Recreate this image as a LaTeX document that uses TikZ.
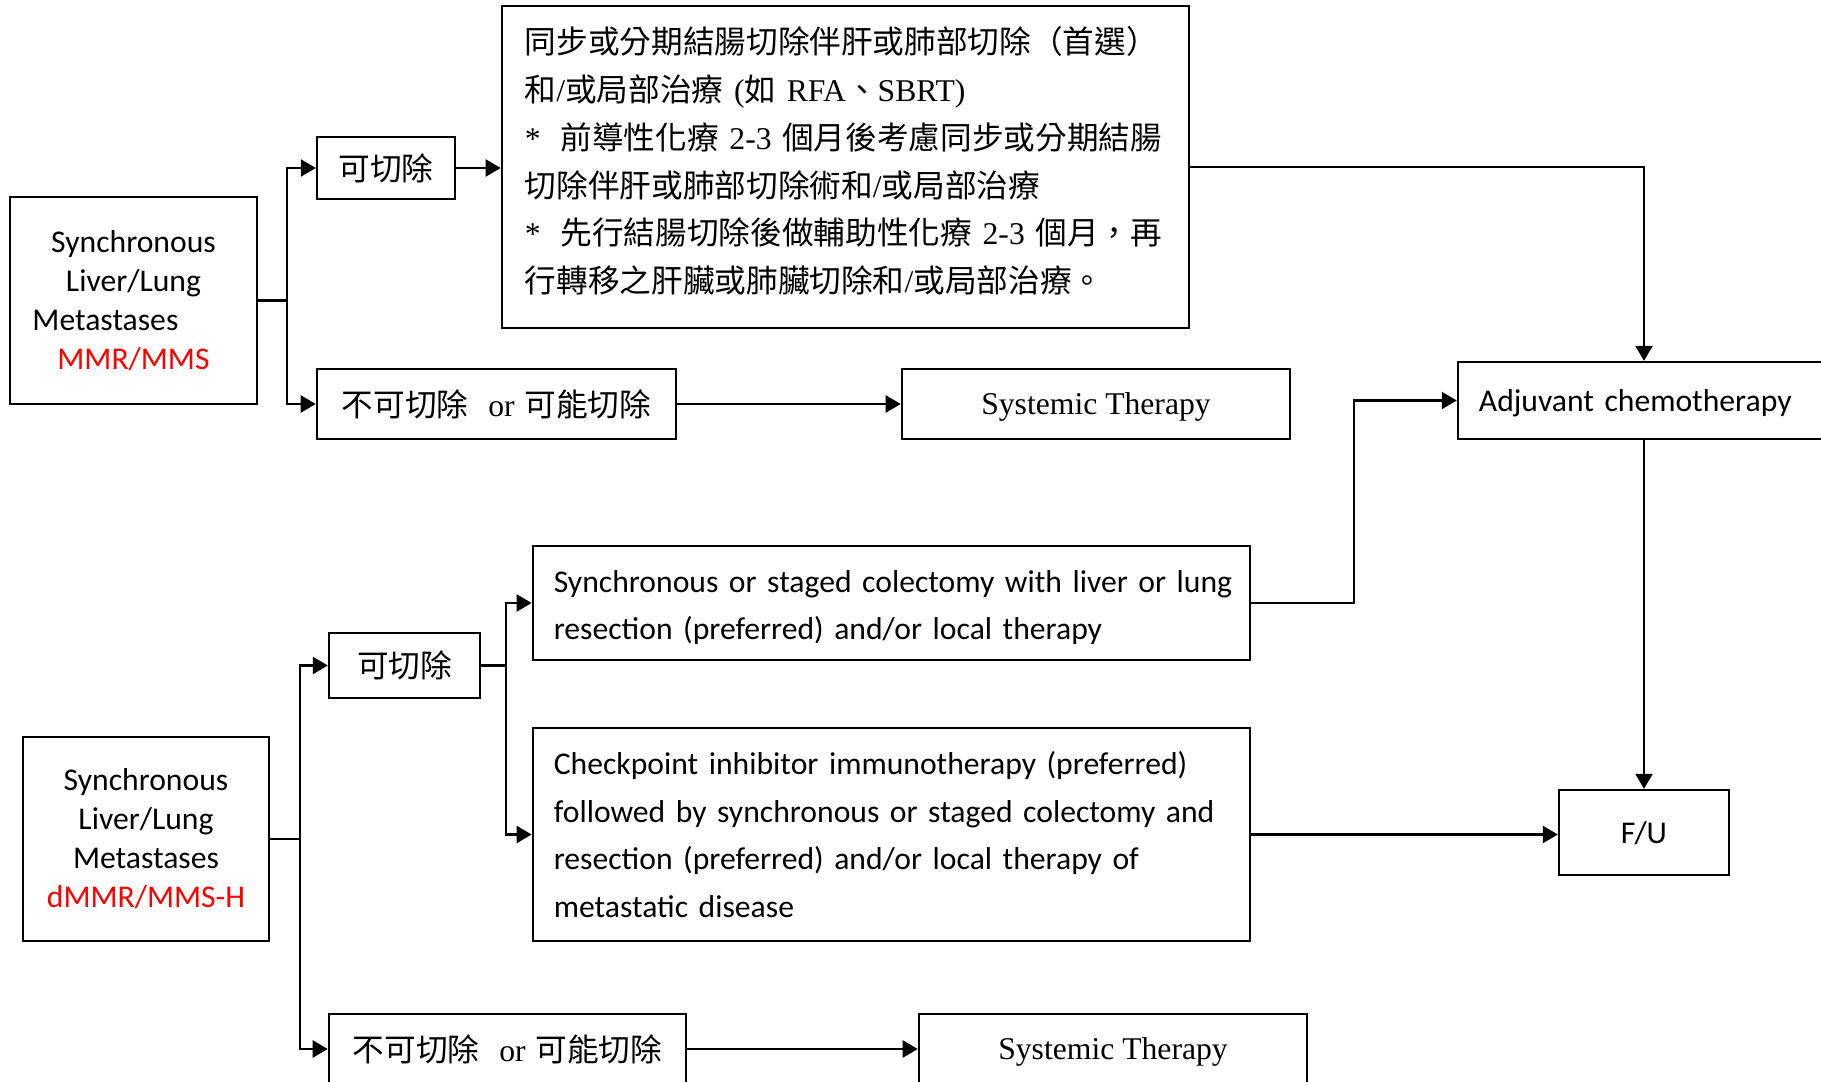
\documentclass[tikz,border=0pt]{standalone}
\usepackage{fontspec}
\setmainfont{Liberation Serif}
\newfontfamily\calfont[WordSpace=0.78]{Carlito}
\newfontfamily\cjkfont{Noto Sans CJK TC}
\usetikzlibrary{arrows.meta}
\newcommand\zh[1]{{\cjkfont #1}}
\definecolor{myred}{RGB}{255,0,0}
\tikzset{
 box/.style={draw, line width=0.65pt, inner sep=0pt, align=center, font=\fontsize{9}{11.1}\selectfont},
 calbox/.style={box, font=\calfont\fontsize{9}{11.1}\selectfont},
 lbox/.style={box, align=left, inner xsep=0.21cm, font=\calfont\fontsize{9}{13.6}\selectfont},
 conn/.style={line width=0.65pt},
 arr/.style={conn, -{Triangle[length=0.15cm,width=0.17cm]}},
}
\begin{document}
\begin{tikzpicture}[x=0.01cm,y=-0.01cm]
\useasboundingbox (0,0) rectangle (1821,1082);
\clip (0,0) rectangle (1821,1082);
\fill[white] (0,0) rectangle (1821,1082);

% top group
\node[calbox, minimum width=2.47cm, minimum height=2.07cm] (a1) at (133.5,300.5)
 {Synchronous\\Liver/Lung\\\makebox[2.02cm][l]{Metastases}\\\textcolor{myred}{MMR/MMS}};
\node[box, minimum width=1.38cm, minimum height=0.62cm] (k1) at (386,168) {\zh{可切除}};
\node[box, minimum width=6.87cm, minimum height=3.22cm] (cn) at (845.5,167) {};
\node[inner sep=0pt, align=left, text width=6.41cm, font=\fontsize{9}{13.6}\selectfont]
 (cntext) at ([yshift=0.06cm]cn.center)
 {\zh{同步或分期結腸切除伴肝或肺部切除（首選）}\\
  \zh{和}/\zh{或局部治療} (\zh{如} RFA\zh{、}SBRT)\\
  {*}\hspace{0.2cm}\zh{前導性化療} 2-3 \zh{個月後考慮同步或分期結腸}\\
  \zh{切除伴肝或肺部切除術和}/\zh{或局部治療}\\
  {*}\hspace{0.2cm}\zh{先行結腸切除後做輔助性化療} 2-3 \zh{個月，再}\\
  \zh{行轉移之肝臟或肺臟切除和}/\zh{或局部治療。}};
\node[box, minimum width=3.59cm, minimum height=0.70cm] (n1) at (496.5,404)
 {\zh{不可切除}\hspace{0.2cm}or\hspace{0.1cm}\zh{可能切除}};
\node[box, minimum width=3.88cm, minimum height=0.70cm, text depth=0pt] (s1) at (1096,404) {Systemic Therapy};
\node[lbox, text width=3.3cm, minimum height=0.77cm, text depth=0pt] (adj) at (1644,400.5) {\mbox{Adjuvant chemotherapy}};
\node[calbox, minimum width=1.70cm, minimum height=0.85cm, text depth=0pt] (fu) at (1644,832.5) {F/U};

% bottom group
\node[calbox, minimum width=2.46cm, minimum height=2.04cm] (a2) at (146,839)
 {Synchronous\\Liver/Lung\\Metastases\\\textcolor{myred}{dMMR/MMS-H}};
\node[box, minimum width=1.51cm, minimum height=0.65cm] (k2) at (404.5,665.5) {\zh{可切除}};
\node[box, minimum width=7.17cm, minimum height=1.14cm] (ss) at (891.5,603) {};
\node[inner sep=0pt, align=left, text width=6.75cm, font=\calfont\fontsize{9}{13.6}\selectfont]
 (sstext) at ([yshift=-0.045cm]ss.center)
 {\mbox{Synchronous or staged colectomy with liver or lung}\\\mbox{resection (preferred) and/or local therapy}};
\node[lbox, text width=6.75cm, minimum height=2.13cm] (cp) at (891.5,834.5)
 {\mbox{Checkpoint inhibitor immunotherapy (preferred)}\\\mbox{followed by synchronous or staged colectomy and}\\\mbox{resection (preferred) and/or local therapy of}\\metastatic disease};
\node[box, minimum width=3.57cm, minimum height=0.70cm] (n2) at (507.5,1049)
 {\zh{不可切除}\hspace{0.2cm}or\hspace{0.1cm}\zh{可能切除}};
\node[box, minimum width=3.88cm, minimum height=0.70cm, text depth=0pt] (s2) at (1113,1049) {Systemic Therapy};

% connectors top
\coordinate (j1) at (287,300.5);
\draw[conn] (a1.east) -- (j1);
\draw[arr] (j1) |- (k1.west);
\draw[arr] (j1) |- (n1.west);
\draw[arr] (k1.east) -- (k1.east -| cn.west);
\draw[arr] (n1.east) -- (s1.west);
\draw[arr] (cn.east) -| (adj.north);
\draw[arr] (adj.south) -- (fu.north);

% connectors bottom
\coordinate (j2) at (300,839);
\draw[conn] (a2.east) -- (j2);
\draw[arr] (j2) |- (k2.west);
\draw[arr] (j2) |- (n2.west);
\coordinate (j3) at (506,665.5);
\draw[conn] (k2.east) -- (j3);
\draw[arr] (j3) |- (ss.west);
\draw[arr] (j3) |- (cp.west);
\coordinate (j4) at (1354,603);
\draw[arr] (ss.east) -- (j4) |- (adj.west);
\draw[arr] (cp.east) -- (cp.east -| fu.west);
\draw[arr] (n2.east) -- (s2.west);
\end{tikzpicture}
\end{document}
